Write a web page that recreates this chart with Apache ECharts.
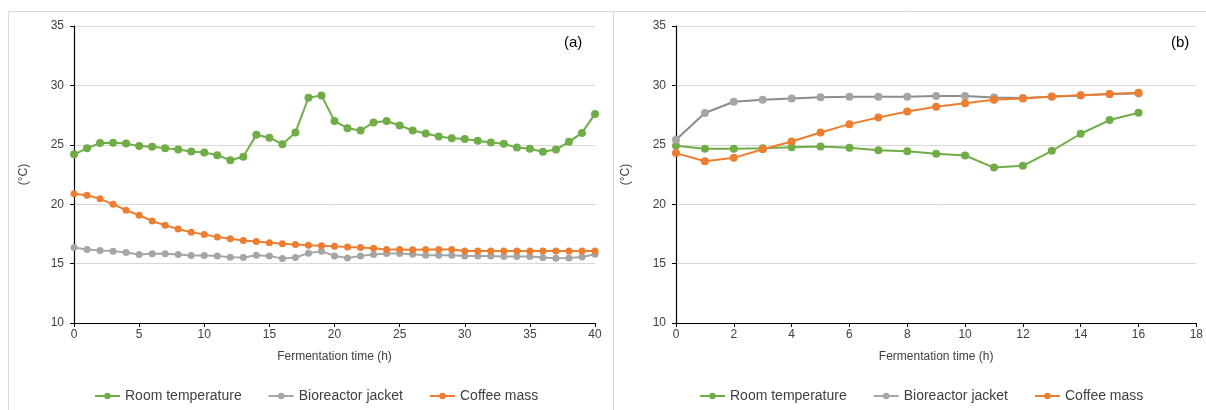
<!DOCTYPE html>
<html><head><meta charset="utf-8">
<script src="https://cdn.jsdelivr.net/npm/echarts@6/dist/echarts.min.js"></script>
<style>html,body{margin:0;padding:0;background:#fff}#c{width:1206px;height:410px}</style>
</head><body><div id="c"></div>
<script>
// Panel (a) data
const timeA = [0,1,2,3,4,5,6,7,8,9,10,11,12,13,14,15,16,17,18,19,20,21,22,23,24,25,26,27,28,29,30,31,32,33,34,35,36,37,38,39,40];
const roomA = [24.2,24.7,25.15,25.17,25.1,24.9,24.83,24.7,24.6,24.44,24.35,24.13,23.7,24.0,25.84,25.6,25.05,26.04,28.96,29.16,27.0,26.4,26.2,26.88,27.0,26.63,26.2,25.95,25.7,25.56,25.48,25.34,25.2,25.08,24.78,24.66,24.41,24.6,25.25,26.0,27.6];
const jacketA = [16.36,16.19,16.1,16.05,15.93,15.76,15.82,15.82,15.76,15.68,15.68,15.65,15.54,15.51,15.71,15.65,15.42,15.51,15.88,16.05,15.65,15.48,15.65,15.76,15.85,15.85,15.79,15.71,15.71,15.71,15.65,15.65,15.65,15.59,15.59,15.59,15.51,15.45,15.48,15.56,15.79];
const massA = [20.88,20.76,20.45,20.0,19.49,19.07,18.59,18.22,17.91,17.63,17.46,17.23,17.09,16.95,16.86,16.75,16.67,16.61,16.55,16.5,16.45,16.4,16.36,16.3,16.19,16.19,16.16,16.19,16.19,16.19,16.07,16.07,16.07,16.07,16.07,16.07,16.07,16.07,16.07,16.07,16.07];
// Panel (b) data
const timeB = [0,1,2,3,4,5,6,7,8,9,10,11,12,13,14,15,16];
const roomB = [24.92,24.66,24.66,24.72,24.8,24.86,24.76,24.55,24.45,24.24,24.1,23.08,23.23,24.49,25.93,27.08,27.7];
const jacketB = [25.42,27.68,28.62,28.8,28.9,29.0,29.05,29.05,29.05,29.1,29.1,28.99,28.93,29.04,29.15,29.27,29.32];
const massB = [24.3,23.62,23.9,24.63,25.28,26.04,26.74,27.3,27.8,28.2,28.5,28.79,28.9,29.07,29.18,29.27,29.38];
const seriesNames = ['Room temperature','Bioreactor jacket','Coffee mass'];
const yTicks = {min:10, max:35, interval:5};
const xA = {min:0, max:40, interval:5};
const xB = {min:0, max:18, interval:2};

const colors = ['#70ad47','#a5a5a5','#ed7d31'];
const lineColors = [['#70ad47','#a5a5a5','#ed7d31'],['#70ad47','#8c8c8c','#ed7d31']];
const FONT = 'Liberation Sans, Arial, sans-serif';

function pairs(xs, ys){ return xs.map((x,i)=>[x, ys[i]]); }

const chart = echarts.init(document.getElementById('c'), null, {renderer:'canvas'});
const grids = [
  {left:74, top:26, width:521, height:297},
  {left:676, top:26, width:521, height:297}
];
function xAxis(idx, r){
  return {type:'value', gridIndex:idx, min:r.min, max:r.max, interval:r.interval,
    name:'Fermentation time (h)', nameLocation:'middle', nameGap:28,
    nameTextStyle:{color:'#404040', fontSize:12, fontFamily:FONT},
    axisLine:{show:true, onZero:false, lineStyle:{color:'#000', width:1.2}},
    axisTick:{show:true, inside:false, length:4, lineStyle:{color:'#000'}},
    axisLabel:{color:'#404040', fontSize:12, fontFamily:FONT, margin:6},
    splitLine:{show:false}};
}
function yAxis(idx){
  return {type:'value', gridIndex:idx, min:yTicks.min, max:yTicks.max, interval:yTicks.interval,
    name:'(°C)', nameLocation:'middle', nameGap:44, nameRotate:90,
    nameTextStyle:{color:'#404040', fontSize:12, fontFamily:FONT},
    axisLine:{show:true, onZero:false, lineStyle:{color:'#000', width:1.2}},
    axisTick:{show:true, inside:false, length:4, lineStyle:{color:'#000'}},
    axisLabel:{color:'#404040', fontSize:12, fontFamily:FONT, margin:10},
    splitLine:{show:true, lineStyle:{color:'#d9d9d9', width:1}}};
}
function mkSeries(idx, xs, ys, k, size){
  return {name:seriesNames[k], type:'line', xAxisIndex:idx, yAxisIndex:idx,
    data:pairs(xs, ys), symbol:'circle', symbolSize:size, showSymbol:true,
    itemStyle:{color:colors[k]}, lineStyle:{color:lineColors[idx][k], width:2},
    z: 2 + (k===2?1:0), animation:false};
}
const legendBase = {
  itemWidth:25, itemHeight:8, itemGap:26,
  textStyle:{color:'#404040', fontSize:14, fontFamily:FONT}, top:384, data:seriesNames
};
chart.setOption({
  animation:false,
  grid:grids,
  xAxis:[xAxis(0,xA), xAxis(1,xB)],
  yAxis:[yAxis(0), yAxis(1)],
  legend:[
    Object.assign({}, legendBase, {left:89}),
    Object.assign({}, legendBase, {left:694})
  ],
  series:[
    mkSeries(0,timeA,roomA,0,8), mkSeries(0,timeA,jacketA,1,7), mkSeries(0,timeA,massA,2,7),
    mkSeries(1,timeB,roomB,0,8), mkSeries(1,timeB,jacketB,1,8), mkSeries(1,timeB,massB,2,8)
  ],
  graphic:[
    {type:'rect', shape:{x:8.5, y:11.5, width:605, height:420}, style:{fill:'none', stroke:'#d9d9d9', lineWidth:1}, z:-1},
    {type:'rect', shape:{x:613.5, y:11.5, width:620, height:420}, style:{fill:'none', stroke:'#d9d9d9', lineWidth:1}, z:-1},
    {type:'text', left:564, top:35, style:{text:'(a)', fill:'#000', font:'15px '+FONT}},
    {type:'text', left:1171, top:35, style:{text:'(b)', fill:'#000', font:'15px '+FONT}}
  ]
});
</script></body></html>
